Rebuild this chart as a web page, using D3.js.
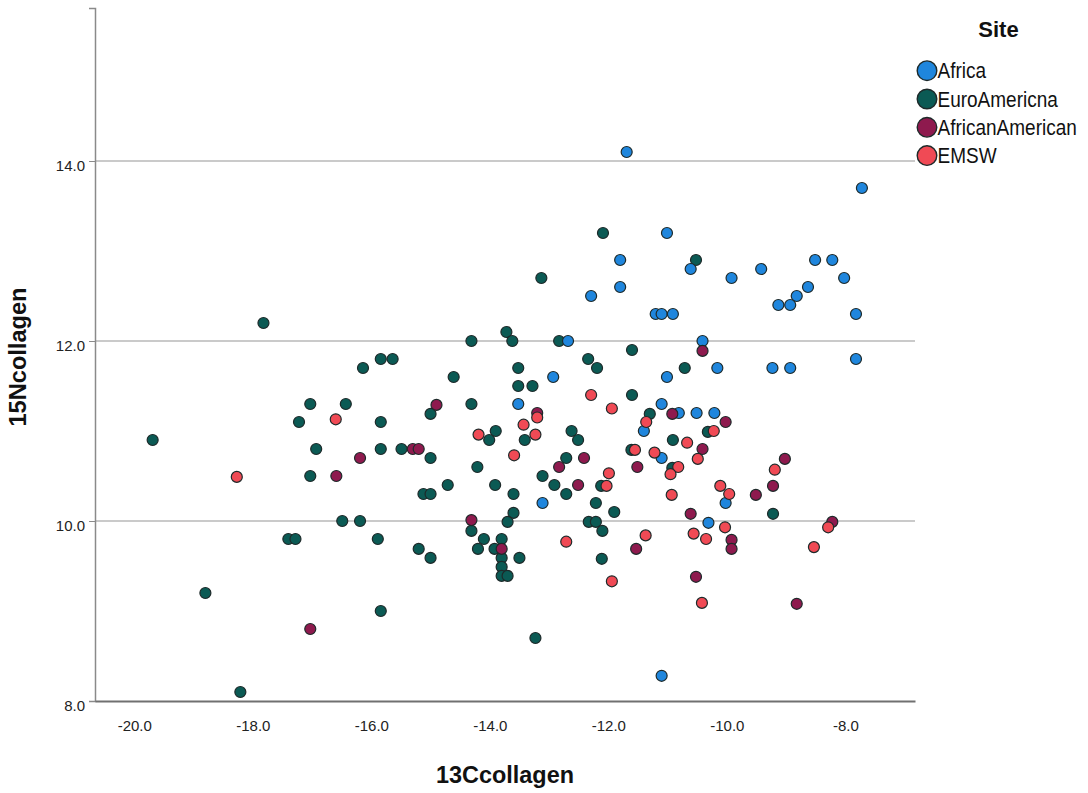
<!DOCTYPE html>
<html><head><meta charset="utf-8">
<script src="https://cdn.jsdelivr.net/npm/d3@7"></script>
<style>body{margin:0;background:#fff}svg{display:block}</style>
</head><body>
<svg id="c" width="1088" height="793"></svg>
<script>
const sites = ["Africa","EuroAmericna","AfricanAmerican","EMSW"];
const siteColors = ["#1f86dd","#0b5a54","#8e1a4e","#f04a55"];
const xTicks = [-20,-18,-16,-14,-12,-10,-8];
const yTicks = [8,10,12,14];
const gridTicks = [10,12,14];

const africa = [[-11.69,14.1],[-7.72,13.7],[-11.01,13.2],[-11.80,12.9],[-10.61,12.8],[-9.92,12.7],[-9.42,12.8],[-8.51,12.9],[-8.22,12.9],[-8.02,12.7],[-8.63,12.6],[-8.82,12.5],[-9.13,12.4],[-8.93,12.4],[-7.82,12.3],[-11.80,12.6],[-12.29,12.5],[-11.20,12.3],[-11.10,12.3],[-10.91,12.3],[-10.41,12.0],[-12.68,12.0],[-10.16,11.7],[-9.23,11.7],[-8.93,11.7],[-7.82,11.8],[-11.01,11.6],[-12.93,11.6],[-11.10,11.3],[-13.52,11.3],[-10.81,11.2],[-10.51,11.2],[-10.21,11.2],[-11.40,11.0],[-11.10,10.7],[-10.02,10.2],[-13.11,10.2],[-10.31,9.98],[-11.10,8.28]];
const euroAmericna = [[-17.82,12.2],[-15.84,11.8],[-15.64,11.8],[-16.14,11.7],[-17.03,11.3],[-16.43,11.3],[-17.22,11.1],[-15.84,11.1],[-19.69,10.9],[-16.93,10.8],[-15.84,10.8],[-15.49,10.8],[-17.03,10.5],[-16.49,10.0],[-16.19,10.0],[-17.40,9.8],[-17.28,9.8],[-15.89,9.8],[-18.80,9.2],[-15.84,9.0],[-18.21,8.1],[-13.13,12.7],[-14.31,12.0],[-13.72,12.1],[-13.62,12.0],[-12.83,12.0],[-11.60,11.9],[-12.34,11.8],[-12.19,11.7],[-14.61,11.6],[-13.52,11.7],[-13.52,11.5],[-13.28,11.5],[-11.60,11.4],[-15.00,11.19],[-14.31,11.3],[-13.90,11.0],[-14.01,10.9],[-13.41,10.9],[-12.62,11.0],[-12.51,10.9],[-11.30,11.19],[-10.91,10.9],[-15.00,10.7],[-12.71,10.7],[-14.21,10.6],[-13.11,10.5],[-12.91,10.4],[-12.71,10.3],[-12.12,10.39],[-11.61,10.79],[-15.12,10.3],[-15.00,10.3],[-14.71,10.4],[-13.91,10.4],[-13.60,10.3],[-13.60,10.09],[-13.70,9.99],[-12.21,10.2],[-11.90,10.1],[-12.33,9.99],[-12.21,9.99],[-12.10,9.89],[-14.31,9.89],[-14.10,9.8],[-14.20,9.69],[-13.92,9.69],[-13.80,9.8],[-13.80,9.59],[-13.80,9.49],[-13.80,9.39],[-13.70,9.39],[-13.50,9.59],[-15.20,9.69],[-15.00,9.59],[-12.11,9.58],[-13.23,8.7],[-12.09,13.2],[-10.52,12.9],[-10.71,11.7],[-10.32,10.99],[-10.92,10.59],[-9.22,10.08]];
const africanAmerican = [[-16.19,10.7],[-16.59,10.5],[-17.03,8.8],[-14.90,11.29],[-13.20,11.2],[-15.30,10.8],[-15.20,10.8],[-12.41,10.7],[-12.83,10.6],[-12.51,10.4],[-14.31,10.01],[-13.80,9.69],[-11.53,9.69],[-11.51,10.6],[-10.41,11.89],[-10.92,11.19],[-10.02,11.1],[-10.41,10.8],[-9.51,10.29],[-9.22,10.39],[-9.02,10.69],[-10.61,10.08],[-9.92,9.79],[-9.92,9.69],[-10.52,9.38],[-8.82,9.08],[-8.22,9.99]];
const emsw = [[-16.60,11.13],[-18.27,10.49],[-12.29,11.4],[-11.94,11.25],[-13.20,11.15],[-13.43,11.07],[-13.23,10.96],[-14.19,10.96],[-11.36,11.1],[-13.59,10.73],[-11.99,10.53],[-12.03,10.39],[-11.55,10.79],[-11.22,10.76],[-10.93,10.29],[-12.71,9.77],[-11.94,9.33],[-11.37,9.84],[-10.22,11.0],[-10.67,10.87],[-10.49,10.69],[-10.82,10.6],[-10.95,10.52],[-10.11,10.39],[-9.96,10.3],[-9.19,10.57],[-10.56,9.86],[-10.35,9.8],[-10.03,9.93],[-10.42,9.09],[-8.53,9.71],[-8.29,9.93]];

const seriesData = [africa, euroAmericna, africanAmerican, emsw];
const drawOrder = [1,0,2,3];

const FONT = "Liberation Sans, Arial, sans-serif";
const fmt = d3.formatLocale({decimal:".",thousands:",",grouping:[3],currency:["$",""],minus:"-"}).format(".1f");

const svg = d3.select("#c");
const x = d3.scaleLinear().domain([-20.663,-6.824]).range([95,915]);
const y = d3.scaleLinear().domain([8,15.7]).range([701,8]);
const color = d3.scaleOrdinal().domain(sites).range(siteColors);

// gridlines
svg.append("g").selectAll("line").data(gridTicks).join("line")
  .attr("x1",x.range()[0]).attr("x2",x.range()[1])
  .attr("y1",d=>y(d)).attr("y2",d=>y(d))
  .attr("stroke","#b8b8b8").attr("stroke-width",1.5);

// y axis
const ya = svg.append("g").attr("transform","translate(95,0)")
  .call(d3.axisLeft(y).tickValues(yTicks).tickFormat(fmt).tickSize(6).tickPadding(4));
ya.select(".domain").attr("stroke","#8a8a8a").attr("stroke-width",1.5);
ya.selectAll(".tick line").attr("stroke","#8a8a8a");
ya.selectAll("text").attr("font-family",FONT).attr("font-size",15).attr("fill","#222").attr("dy","0.6em");

// x axis
const xa = svg.append("g").attr("transform","translate(0,701)")
  .call(d3.axisBottom(x).tickValues(xTicks).tickFormat(fmt).tickSize(0).tickPadding(19));
xa.select(".domain").attr("stroke","#707070").attr("stroke-width",2);
xa.selectAll("text").attr("font-family",FONT).attr("font-size",15).attr("fill","#222");

// points
drawOrder.forEach(i=>{
  svg.append("g").selectAll("circle").data(seriesData[i]).join("circle")
    .attr("cx",d=>x(d[0])).attr("cy",d=>y(d[1])).attr("r",5.5)
    .attr("fill",color(sites[i])).attr("stroke","#1e2a2a").attr("stroke-width",1.2);
});

// axis titles
svg.append("text").attr("x",505).attr("y",783).attr("text-anchor","middle")
  .attr("font-family",FONT).attr("font-weight","bold").attr("font-size",24).attr("fill","#111")
  .attr("textLength",138).attr("lengthAdjust","spacingAndGlyphs")
  .text("13Ccollagen");
svg.append("text").attr("transform","translate(26,357) rotate(-90)").attr("text-anchor","middle")
  .attr("font-family",FONT).attr("font-weight","bold").attr("font-size",24).attr("fill","#111")
  .attr("textLength",139).attr("lengthAdjust","spacingAndGlyphs")
  .text("15Ncollagen");

// legend
const lg = svg.append("g");
lg.append("text").attr("x",998.5).attr("y",37).attr("text-anchor","middle")
  .attr("font-family",FONT).attr("font-weight","bold").attr("font-size",22).attr("fill","#111").text("Site");
const items = lg.selectAll("g.item").data(sites).join("g").attr("class","item")
  .attr("transform",(d,i)=>`translate(0,${70.7+i*28.3})`);
items.append("circle").attr("cx",927).attr("cy",0).attr("r",9.8)
  .attr("fill",d=>color(d)).attr("stroke","#1e2a2a").attr("stroke-width",1.4);
items.append("text").attr("transform","translate(937.5,7.6) scale(1,1.15)")
  .attr("font-family",FONT).attr("font-size",19).attr("fill","#111")
  .text(d=>d);
</script>
</body></html>
